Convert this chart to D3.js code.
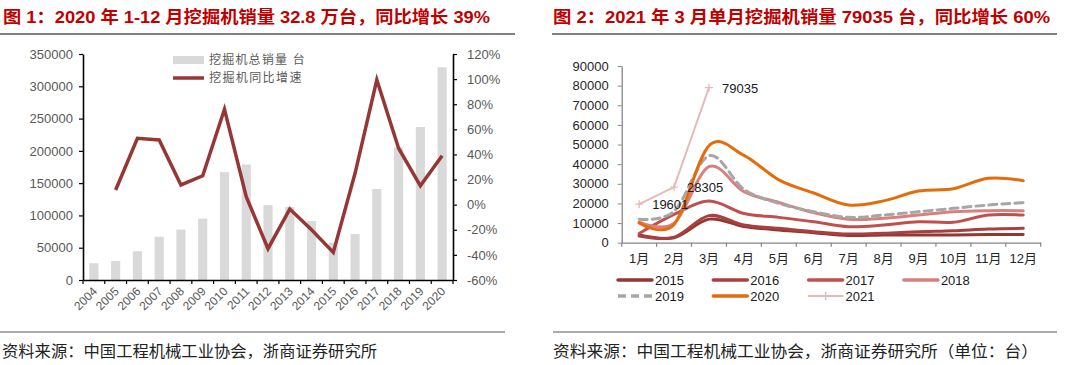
<!DOCTYPE html>
<html><head><meta charset="utf-8">
<script src="https://cdn.jsdelivr.net/npm/d3@7"></script>
<style>
html,body{margin:0;padding:0;background:#fff;}
svg{display:block;}
text{font-family:"Liberation Sans","Noto Sans CJK SC",sans-serif;}
</style></head>
<body>
<svg id="c" width="1080" height="365"></svg>
<script>
// ---------- data: left chart ----------
const years = ["2004","2005","2006","2007","2008","2009","2010","2011","2012","2013","2014","2015","2016","2017","2018","2019","2020"];
const salesTotal = [26000,29500,44500,67000,78000,95000,167000,179000,116000,113000,91400,57800,71200,141000,205500,237000,329400];
const yoyGrowth = [null,11.7,52.8,51.5,15.7,23,76,6.4,-35,-3.5,-20,-38,25,99.5,45,15,39];
const leftTicks = [0,50000,100000,150000,200000,250000,300000,350000];
const rightTicks = [-60,-40,-20,0,20,40,60,80,100,120];
const leftLegend = ["挖掘机总销量 台","挖掘机同比增速"];

// ---------- data: right chart ----------
const months = ["1月","2月","3月","4月","5月","6月","7月","8月","9月","10月","11月","12月"];
const s2015 = [4000,2500,12000,8300,6500,5100,3700,3900,3900,3900,4200,4200];
const s2016 = [3400,2800,13800,9000,7300,5600,4400,4800,5600,6100,7000,7300];
const s2017 = [4700,14400,21200,14900,12900,10700,8150,9000,10700,10400,14100,14100];
const s2018 = [10500,10000,38700,26000,20500,15300,11900,12400,14100,15800,16300,16300];
const s2019 = [12000,16000,44300,27200,20000,15800,12900,14100,15800,17500,19200,20400];
const s2020 = [10000,9300,49400,44500,32000,25300,19200,21300,26300,27500,32800,31600];
const s2021 = [19601,28305,79035];
const rightYTicks = [0,10000,20000,30000,40000,50000,60000,70000,80000,90000];
const seriesNames = ["2015","2016","2017","2018","2019","2020","2021"];

const titleL = "图 1：2020 年 1-12 月挖掘机销量 32.8 万台，同比增长 39%";
const titleR = "图 2：2021 年 3 月单月挖掘机销量 79035 台，同比增长 60%";
const sourceL = "资料来源：中国工程机械工业协会，浙商证券研究所";
const sourceR = "资料来源：中国工程机械工业协会，浙商证券研究所（单位：台）";

const svg = d3.select("#c");
const RED = "#C00000";

// ---------- titles / frame lines ----------
svg.append("text").attr("x",3).attr("y",23).attr("font-size",17).attr("font-weight","bold")
  .attr("fill",RED).attr("textLength",487).attr("lengthAdjust","spacingAndGlyphs").text(titleL);
svg.append("text").attr("x",553).attr("y",23).attr("font-size",17).attr("font-weight","bold")
  .attr("fill",RED).attr("textLength",497).attr("lengthAdjust","spacingAndGlyphs").text(titleR);
svg.append("line").attr("x1",0).attr("x2",515).attr("y1",34).attr("y2",34).attr("stroke","#595959").attr("stroke-width",1.5);
svg.append("line").attr("x1",552).attr("x2",1057).attr("y1",34).attr("y2",34).attr("stroke","#595959").attr("stroke-width",1.5);
svg.append("line").attr("x1",0).attr("x2",505).attr("y1",332).attr("y2",332).attr("stroke","#595959").attr("stroke-width",1.2);
svg.append("line").attr("x1",553).attr("x2",1057).attr("y1",332).attr("y2",332).attr("stroke","#595959").attr("stroke-width",1.2);
svg.append("text").attr("x",2).attr("y",357).attr("font-size",16).attr("fill","#222")
  .attr("font-family","Noto Sans CJK SC").attr("textLength",375).attr("lengthAdjust","spacingAndGlyphs").text(sourceL);
svg.append("text").attr("x",553).attr("y",357).attr("font-size",16).attr("fill","#222")
  .attr("font-family","Noto Sans CJK SC").attr("textLength",485).attr("lengthAdjust","spacingAndGlyphs").text(sourceR);

// ---------- left chart ----------
const L = {x0:83, x1:453, y0:54, y1:280};
const xb = d3.scaleBand().domain(years).range([L.x0, L.x1]);
const yl = d3.scaleLinear().domain([0,350000]).range([L.y1, L.y0]);
const yr = d3.scaleLinear().domain([-60,120]).range([L.y1, L.y0]);
const gL = svg.append("g");
const bw = xb.bandwidth()*0.42;

gL.selectAll("rect.bar").data(years).join("rect")
  .attr("x", d => xb(d) + xb.bandwidth()/2 - bw/2)
  .attr("width", bw)
  .attr("y", (d,i) => yl(salesTotal[i]))
  .attr("height", (d,i) => yl(0) - yl(salesTotal[i]))
  .attr("fill","#D9D9D9");

const lineL = d3.line()
  .defined(d => d.v !== null)
  .x(d => xb(d.y) + xb.bandwidth()/2)
  .y(d => yr(d.v));
gL.append("path").datum(years.map((y,i)=>({y, v:yoyGrowth[i]})))
  .attr("d", lineL).attr("fill","none").attr("stroke","#953735").attr("stroke-width",3.5)
  .attr("stroke-linejoin","miter");

// axes
const axL = gL.append("g").attr("transform",`translate(${L.x0},0)`)
  .call(d3.axisLeft(yl).tickValues(leftTicks).tickSize(4).tickSizeOuter(0).tickFormat(d3.format("d")));
const axR = gL.append("g").attr("transform",`translate(${L.x1},0)`)
  .call(d3.axisRight(yr).tickValues(rightTicks).tickSize(4).tickSizeOuter(0).tickFormat(d => d + "%"));
[axL, axR].forEach(a => {
  a.select(".domain").attr("stroke","#000").attr("stroke-width",1.6);
  a.selectAll(".tick line").attr("stroke","#000").attr("stroke-width",1.2);
  a.selectAll(".tick text").attr("font-size",13).attr("fill","#595959")
    .attr("font-family","Liberation Sans");
});
axL.selectAll(".tick text").attr("x",-10);
axR.selectAll(".tick text").attr("x",14);

// x axis
const axB = gL.append("g").attr("transform",`translate(0,${L.y1})`)
  .call(d3.axisBottom(xb).tickSize(0).tickSizeOuter(0));
axB.select(".domain").attr("stroke","#000").attr("stroke-width",1.6);
axB.selectAll(".tick text")
  .attr("font-size",12).attr("fill","#595959").attr("font-family","Liberation Sans")
  .attr("text-anchor","end").attr("dy",0).attr("y",0)
  .attr("transform","translate(4,12) rotate(-45)");
const edges = years.map(d => xb(d)).concat([L.x1]);
gL.selectAll("line.xt").data(edges).join("line")
  .attr("x1",d=>d).attr("x2",d=>d).attr("y1",L.y1).attr("y2",L.y1+4)
  .attr("stroke","#000").attr("stroke-width",1.2);

// legend
gL.append("rect").attr("x",173).attr("y",56).attr("width",31).attr("height",8).attr("fill","#D9D9D9");
gL.append("line").attr("x1",173).attr("x2",204).attr("y1",78).attr("y2",78).attr("stroke","#953735").attr("stroke-width",3.5);
gL.append("text").attr("x",209).attr("y",64).attr("font-size",12).attr("fill","#595959")
  .attr("font-family","Noto Sans CJK SC").attr("letter-spacing",1.2).text(leftLegend[0]);
gL.append("text").attr("x",209).attr("y",82).attr("font-size",12).attr("fill","#595959")
  .attr("font-family","Noto Sans CJK SC").attr("letter-spacing",1.4).text(leftLegend[1]);

// ---------- right chart ----------
const R = {x0:621.7, x1:1040.7, y0:66, y1:242.7};
const xm = d3.scaleBand().domain(months).range([R.x0, R.x1]);
const ym = d3.scaleLinear().domain([0,90000]).range([R.y1, R.y0]);
const gR = svg.append("g");
const cx = m => xm(m) + xm.bandwidth()/2;

const axRY = gR.append("g").attr("transform",`translate(${R.x0},0)`)
  .call(d3.axisLeft(ym).tickValues(rightYTicks).tickSize(4).tickSizeOuter(0).tickFormat(d3.format("d")));
axRY.select(".domain").attr("stroke","#868686").attr("stroke-width",1.3);
axRY.selectAll(".tick line").attr("stroke","#868686");
axRY.selectAll(".tick text").attr("font-size",13).attr("fill","#262626").attr("x",-13).attr("font-family","Liberation Sans");

const axRX = gR.append("g").attr("transform",`translate(0,${R.y1})`)
  .call(d3.axisBottom(xm).tickSize(0).tickSizeOuter(0));
axRX.select(".domain").attr("stroke","#868686").attr("stroke-width",1.3);
axRX.selectAll(".tick text").attr("font-size",13).attr("fill","#262626").attr("y",11).attr("dy","0.71em");
const medges = months.map(d => xm(d)).concat([R.x1]);
gR.selectAll("line.mt").data(medges).join("line")
  .attr("x1",d=>d).attr("x2",d=>d).attr("y1",R.y1).attr("y2",R.y1+4)
  .attr("stroke","#868686").attr("stroke-width",1.2);

const smooth = d3.line().x((d,i)=>cx(months[i])).y(d=>ym(d)).curve(d3.curveCardinal.tension(0));
const series = [
  {name:"2015", data:s2015, color:"#943634", w:3, dash:null},
  {name:"2016", data:s2016, color:"#A8403E", w:3, dash:null},
  {name:"2017", data:s2017, color:"#C0504D", w:3, dash:null},
  {name:"2018", data:s2018, color:"#D7807E", w:3, dash:null},
  {name:"2019", data:s2019, color:"#A6A6A6", w:3, dash:"8,5"},
  {name:"2020", data:s2020, color:"#E46C0A", w:3, dash:null}
];
series.forEach(s => {
  gR.append("path").datum(s.data).attr("d", smooth).attr("fill","none")
    .attr("stroke", s.color).attr("stroke-width", s.w)
    .attr("stroke-dasharray", s.dash).attr("stroke-linecap","round");
});
// 2021 straight line with + markers
const C21 = "#E6B9B8";
const straight = d3.line().x((d,i)=>cx(months[i])).y(d=>ym(d));
gR.append("path").datum(s2021).attr("d", straight).attr("fill","none").attr("stroke",C21).attr("stroke-width",2);
s2021.forEach((v,i) => {
  const x = cx(months[i]), y = ym(v);
  gR.append("path").attr("d",`M${x-4},${y}H${x+4}M${x},${y-4}V${y+4}`).attr("stroke",C21).attr("stroke-width",1.3);
  gR.append("text").attr("x",x+13).attr("y",y).attr("dy","0.4em").attr("font-size",13).attr("fill","#1a1a1a").text(d3.format("d")(v));
});

// legend
const legItems = series.concat([{name:"2021", color:C21, w:2, dash:null, marker:true}]);
legItems.forEach((s,i) => {
  const col = i < 4 ? i : i - 4, row = i < 4 ? 0 : 1;
  const x = 618 + col*95.3, y = 280 + row*16;
  gR.append("line").attr("x1",x).attr("x2",x+34).attr("y1",y).attr("y2",y)
    .attr("stroke",s.color).attr("stroke-width", s.marker ? 2 : 3.5)
    .attr("stroke-dasharray", s.dash).attr("stroke-linecap", s.dash ? "butt" : "round");
  if (s.marker) {
    gR.append("path").attr("d",`M${x+13},${y}H${x+21}M${x+17},${y-4}V${y+4}`).attr("stroke",s.color).attr("stroke-width",1.3);
  }
  gR.append("text").attr("x",x+37).attr("y",y).attr("dy","0.36em").attr("font-size",13).attr("fill","#1a1a1a").text(s.name);
});
</script>
</body></html>
